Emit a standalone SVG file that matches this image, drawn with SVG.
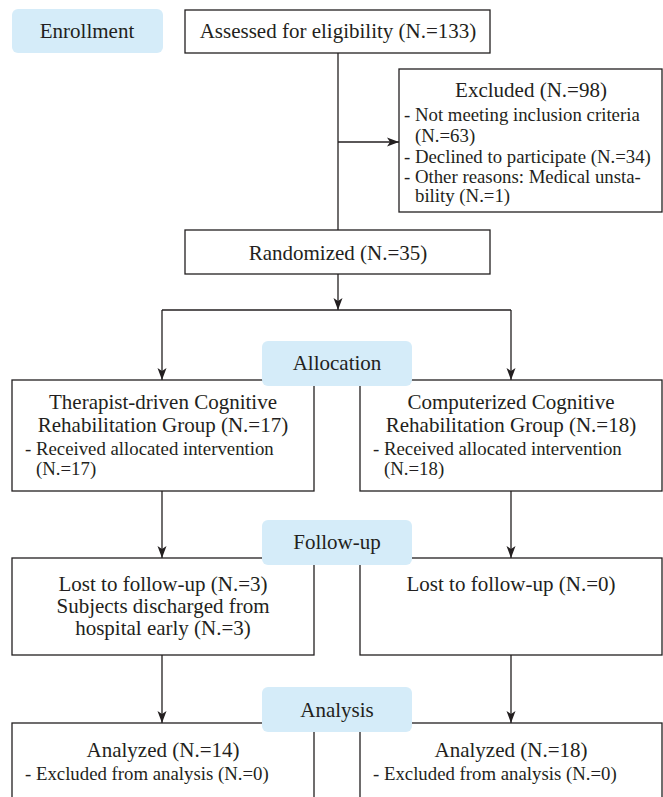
<svg xmlns="http://www.w3.org/2000/svg" width="663" height="797" viewBox="0 0 663 797">
<defs>
<marker id="ah" viewBox="0 0 12 10" refX="12" refY="5" markerWidth="12" markerHeight="10" markerUnits="userSpaceOnUse" orient="auto">
<path d="M0,0.5 L12,5 L0,9.5 L3,5 Z" fill="#231f20"/>
</marker>
<style>
.box{fill:#fff;stroke:#231f20;stroke-width:1.3}
.pill{fill:#d5ecf9;stroke:none}
.t{font-family:"Liberation Serif","Times New Roman",serif;font-size:21px;fill:#231f20}
.s{font-size:18.8px}
.c{text-anchor:middle}
.ln{fill:none;stroke:#231f20;stroke-width:1.3}
</style>
</defs>
<rect width="663" height="797" fill="#fff"/>
<g id="connectors">
<line class="ln" x1="338" y1="53" x2="338" y2="230"/>
<line class="ln" x1="338" y1="142" x2="399" y2="142" marker-end="url(#ah)"/>
<line class="ln" x1="338" y1="274" x2="338" y2="310" marker-end="url(#ah)"/>
<line class="ln" x1="162" y1="310" x2="511" y2="310"/>
<line class="ln" x1="162" y1="310" x2="162" y2="380" marker-end="url(#ah)"/>
<line class="ln" x1="511" y1="310" x2="511" y2="380" marker-end="url(#ah)"/>
<line class="ln" x1="162" y1="491" x2="162" y2="558" marker-end="url(#ah)"/>
<line class="ln" x1="511" y1="491" x2="511" y2="558" marker-end="url(#ah)"/>
<line class="ln" x1="162" y1="655" x2="162" y2="723" marker-end="url(#ah)"/>
<line class="ln" x1="511" y1="655" x2="511" y2="723" marker-end="url(#ah)"/>
</g>
<g id="enrollment">
<rect class="pill" x="12" y="9" width="151" height="44" rx="6"/>
<text class="t c" x="87" y="38">Enrollment</text>
</g>
<g id="assessed">
<rect class="box" x="185" y="10" width="305" height="43"/>
<text class="t c" x="338" y="38">Assessed for eligibility (N.=133)</text>
</g>
<g id="excluded">
<rect class="box" x="399" y="69" width="263" height="143"/>
<text class="t c" x="531" y="97">Excluded (N.=98)</text>
<text class="t s" x="404" y="121">- Not meeting inclusion criteria</text>
<text class="t s" x="415" y="142">(N.=63)</text>
<text class="t s" x="404" y="163">- Declined to participate (N.=34)</text>
<text class="t s" x="404" y="183">- Other reasons: Medical unsta-</text>
<text class="t s" x="415" y="202">bility (N.=1)</text>
</g>
<g id="randomized">
<rect class="box" x="185" y="230" width="305" height="44"/>
<text class="t c" x="338" y="260">Randomized (N.=35)</text>
</g>
<g id="group-left">
<rect class="box" x="12" y="380" width="302" height="111"/>
<text class="t c" x="163" y="409">Therapist-driven Cognitive</text>
<text class="t c" x="163" y="432">Rehabilitation Group (N.=17)</text>
<text class="t s" x="25" y="455">- Received allocated intervention</text>
<text class="t s" x="36" y="475">(N.=17)</text>
</g>
<g id="group-right">
<rect class="box" x="360" y="380" width="302" height="111"/>
<text class="t c" x="511" y="409">Computerized Cognitive</text>
<text class="t c" x="511" y="432">Rehabilitation Group (N.=18)</text>
<text class="t s" x="373" y="455">- Received allocated intervention</text>
<text class="t s" x="384" y="475">(N.=18)</text>
</g>
<g id="allocation">
<rect class="pill" x="262" y="341" width="150" height="45" rx="6"/>
<text class="t c" x="337" y="370">Allocation</text>
</g>
<g id="followup-left">
<rect class="box" x="12" y="558" width="302" height="97"/>
<text class="t c" x="163" y="591">Lost to follow-up (N.=3)</text>
<text class="t c" x="163" y="613">Subjects discharged from</text>
<text class="t c" x="163" y="635">hospital early (N.=3)</text>
</g>
<g id="followup-right">
<rect class="box" x="360" y="558" width="302" height="97"/>
<text class="t c" x="511" y="591">Lost to follow-up (N.=0)</text>
</g>
<g id="followup">
<rect class="pill" x="262" y="520" width="150" height="45" rx="6"/>
<text class="t c" x="337" y="549">Follow-up</text>
</g>
<g id="analysis-left">
<rect class="box" x="12" y="723" width="302" height="100"/>
<text class="t c" x="163" y="757">Analyzed (N.=14)</text>
<text class="t s" x="25" y="780">- Excluded from analysis (N.=0)</text>
</g>
<g id="analysis-right">
<rect class="box" x="360" y="723" width="302" height="100"/>
<text class="t c" x="511" y="757">Analyzed (N.=18)</text>
<text class="t s" x="373" y="780">- Excluded from analysis (N.=0)</text>
</g>
<g id="analysis">
<rect class="pill" x="262" y="687" width="150" height="45" rx="6"/>
<text class="t c" x="337" y="717">Analysis</text>
</g>
</svg>
